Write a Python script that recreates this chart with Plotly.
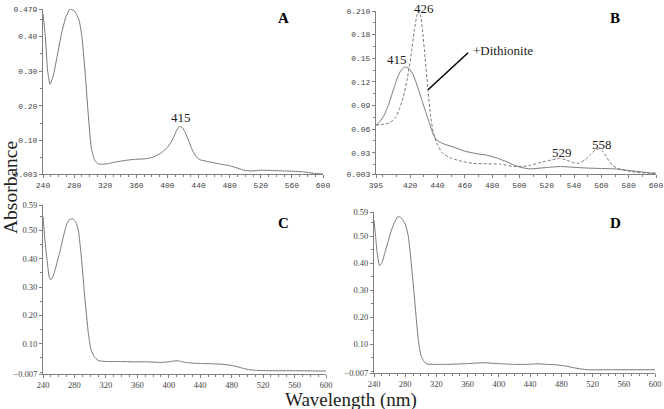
import plotly.graph_objects as go

# ---------------- data ----------------
# Panel A
a_nm = [240, 243, 246, 249, 253, 258, 264, 270, 275, 280, 286, 290, 294, 298, 302, 306, 310, 316,
        324, 332, 342, 356, 372, 382, 392, 400, 406, 411, 415, 419, 423, 428, 432, 437, 442, 452,
        462, 472, 480, 490, 500, 510, 522, 535, 548, 562, 575, 588, 600]
a_abs = [0.465, 0.40, 0.30, 0.262, 0.285, 0.34, 0.41, 0.46, 0.479, 0.474, 0.45, 0.40, 0.30, 0.18,
         0.08, 0.045, 0.033, 0.031, 0.033, 0.037, 0.041, 0.045, 0.047, 0.052, 0.064, 0.080, 0.100,
         0.125, 0.140, 0.137, 0.122, 0.095, 0.072, 0.053, 0.044, 0.039, 0.034, 0.030, 0.027, 0.020,
         0.013, 0.012, 0.014, 0.013, 0.012, 0.011, 0.009, 0.005, 0.003]

# Panel B, oxidised (solid)
b_nm = [395, 398, 401, 404, 407, 410, 413, 416, 419, 422, 425, 428, 431, 434, 437, 440, 445, 452,
        460, 468, 476, 484, 490, 496, 502, 508, 515, 522, 530, 540, 550, 560, 570, 580, 590, 600]
b_abs = [0.065, 0.070, 0.078, 0.090, 0.106, 0.122, 0.134, 0.139, 0.137, 0.130, 0.116, 0.100, 0.084,
         0.068, 0.053, 0.045, 0.041, 0.037, 0.032, 0.029, 0.027, 0.023, 0.019, 0.0145, 0.011, 0.0095,
         0.0105, 0.0115, 0.0125, 0.0115, 0.0105, 0.010, 0.0095, 0.0075, 0.0055, 0.003]

# Panel B, + dithionite (dashed)
bd_nm = [395, 400, 405, 409, 412, 415, 418, 421, 423, 425, 426, 427.5, 429, 431, 433, 435, 437, 440,
         444, 450, 458, 466, 476, 486, 496, 502, 508, 516, 524, 529, 534, 540, 544, 548, 552, 556,
         558, 561, 564, 568, 574, 582, 590, 600]
bd_abs = [0.065, 0.066, 0.068, 0.074, 0.085, 0.101, 0.125, 0.158, 0.185, 0.205, 0.210, 0.205, 0.186,
          0.150, 0.110, 0.076, 0.055, 0.040, 0.029, 0.023, 0.019, 0.0165, 0.016, 0.0155, 0.0125,
          0.0125, 0.014, 0.018, 0.021, 0.023, 0.021, 0.017, 0.0168, 0.021, 0.028, 0.034, 0.0348,
          0.032, 0.024, 0.014, 0.009, 0.006, 0.0045, 0.0045]

# Panel C
c_nm = [240, 242, 245, 248, 250, 253, 257, 262, 266, 270, 274, 278, 282, 285, 289, 292, 295, 298,
        301, 305, 310, 316, 325, 340, 355, 372, 390, 400, 407, 411, 416, 423, 440, 457, 470, 478,
        487, 495, 503, 512, 530, 560, 580, 600]
c_abs = [0.55, 0.48, 0.40, 0.335, 0.326, 0.34, 0.378, 0.43, 0.48, 0.52, 0.539, 0.541, 0.528, 0.50,
         0.40, 0.30, 0.21, 0.13, 0.08, 0.055, 0.041, 0.038, 0.037, 0.037, 0.036, 0.036, 0.034, 0.036,
         0.039, 0.040, 0.037, 0.033, 0.030, 0.029, 0.027, 0.024, 0.019, 0.0126, 0.008, 0.006,
         0.0046, 0.0046, 0.004, 0.0035]

# Panel D
d_nm = [240, 242, 244, 247, 250, 254, 258, 262, 266, 270, 273, 276, 280, 284, 288, 291, 294, 297,
        300, 304, 309, 316, 330, 345, 360, 372, 382, 392, 405, 420, 435, 450, 462, 475, 485, 495,
        505, 515, 540, 600]
d_abs = [0.56, 0.50, 0.44, 0.392, 0.40, 0.44, 0.48, 0.52, 0.55, 0.571, 0.572, 0.565, 0.545, 0.50,
         0.39, 0.30, 0.20, 0.11, 0.06, 0.035, 0.026, 0.025, 0.025, 0.026, 0.028, 0.030, 0.031, 0.029,
         0.027, 0.025, 0.025, 0.027, 0.025, 0.023, 0.019, 0.013, 0.008, 0.005, 0.005, 0.005]

# ticks
x_ticks_uv = [240, 280, 320, 360, 400, 440, 480, 520, 560, 600]
x_ticks_b = [395, 420, 440, 460, 480, 500, 520, 540, 560, 580, 600]
y_ticks_a = [0.003, 0.10, 0.20, 0.30, 0.40, 0.479]
y_text_a = ["0.003", "0.10", "0.20", "0.30", "0.40", "0.479"]
y_ticks_b = [0.003, 0.03, 0.06, 0.09, 0.12, 0.15, 0.18, 0.210]
y_text_b = ["0.003", "0.03", "0.06", "0.09", "0.12", "0.15", "0.18", "0.210"]
y_ticks_cd = [-0.007, 0.10, 0.20, 0.30, 0.40, 0.50, 0.59]
y_text_cd = ["\u22120.007", "0.10", "0.20", "0.30", "0.40", "0.50", "0.59"]

W, H = 664, 409
LINE = "#6a6a6a"
AX = "#808080"

fig = go.Figure()

def curve(x, y, xa, ya, dash="solid"):
    fig.add_trace(go.Scatter(x=x, y=y, xaxis=xa, yaxis=ya, mode="lines",
                             line=dict(color=LINE, width=0.9, dash=dash, shape="spline", smoothing=0.5),
                             hoverinfo="skip", showlegend=False, cliponaxis=False))

curve(a_nm, a_abs, "x", "y")
curve(b_nm, b_abs, "x2", "y2")
curve(bd_nm, bd_abs, "x2", "y2", dash="3px,2px")
curve(c_nm, c_abs, "x3", "y3")
curve(d_nm, d_abs, "x4", "y4")

def xdom(l, r):
    return [l / W, r / W]

def ydom(b, t):
    return [1 - b / H, 1 - t / H]

def xax(dom, rng, vals, anchor, font, tick0):
    return dict(domain=dom, range=rng, anchor=anchor, tickmode="array", tickvals=vals,
                ticktext=[str(v) for v in vals], showline=True, linecolor=AX, linewidth=1,
                ticks="outside", ticklen=3, tickcolor=AX, tickwidth=1, tickfont=font,
                showgrid=False, zeroline=False, fixedrange=True, automargin=False,
                minor=dict(tick0=tick0, dtick=10, ticks="outside", ticklen=2, tickcolor=AX))

def yax(dom, rng, vals, text, anchor, font, dt):
    return dict(domain=dom, range=rng, anchor=anchor, tickmode="array", tickvals=vals,
                ticktext=text, showline=True, linecolor=AX, linewidth=1,
                ticks="outside", ticklen=3, tickcolor=AX, tickwidth=1, tickfont=font,
                showgrid=False, zeroline=False, fixedrange=True, automargin=False,
                minor=dict(tick0=0, dtick=dt, ticks="outside", ticklen=2, tickcolor=AX))

mono = dict(family="Liberation Mono", size=8, color="#444")
serif_small = dict(family="Liberation Serif", size=8.5, color="#444")

fig.update_layout(
    width=W, height=H, margin=dict(l=0, r=0, t=0, b=0, autoexpand=False),
    paper_bgcolor="white", plot_bgcolor="white", showlegend=False,
    xaxis=xax(xdom(43, 323), [240, 600], x_ticks_uv, "y", mono, 240),
    yaxis=yax(ydom(174, 9), [0.003, 0.479], y_ticks_a, y_text_a, "x", mono, 0.05),
    xaxis2=xax(xdom(376, 656), [395, 600], x_ticks_b, "y2", mono, 400),
    yaxis2=yax(ydom(174, 11), [0.003, 0.210], y_ticks_b, y_text_b, "x2", mono, 0.015),
    xaxis3=xax(xdom(43, 326), [240, 600], x_ticks_uv, "y3", serif_small, 240),
    yaxis3=yax(ydom(374, 205), [-0.007, 0.59], y_ticks_cd, y_text_cd, "x3", serif_small, 0.05),
    xaxis4=xax(xdom(374, 655), [240, 600], x_ticks_uv, "y4", serif_small, 240),
    yaxis4=yax(ydom(373, 212), [-0.007, 0.59], y_ticks_cd, y_text_cd, "x4", serif_small, 0.05),
)

lab = dict(family="Liberation Serif", size=13, color="#222")
panel = dict(family="Liberation Serif", size=15, color="black")
C = dict(xanchor="center", yanchor="middle", showarrow=False)

annots = [
    dict(text="<b>A</b>", x=283 / W, y=1 - 18 / H, xref="paper", yref="paper", font=panel, **C),
    dict(text="<b>B</b>", x=615 / W, y=1 - 18 / H, xref="paper", yref="paper", font=panel, **C),
    dict(text="<b>C</b>", x=283 / W, y=1 - 223 / H, xref="paper", yref="paper", font=panel, **C),
    dict(text="<b>D</b>", x=615 / W, y=1 - 223 / H, xref="paper", yref="paper", font=panel, **C),
    dict(text="415", x=417, y=0.140, xref="x", yref="y", xanchor="center", yanchor="bottom",
         yshift=0, showarrow=False, font=lab),
    dict(text="426", x=430.5, y=0.210, xref="x2", yref="y2", xanchor="center", yanchor="bottom",
         yshift=-7, showarrow=False, font=lab),
    dict(text="415", x=410.4, y=0.148, xref="x2", yref="y2", font=lab, **C),
    dict(text="529", x=531.2, y=0.0308, xref="x2", yref="y2", font=lab, **C),
    dict(text="558", x=560.5, y=0.041, xref="x2", yref="y2", font=lab, **C),
    dict(text="+Dithionite", x=464.8, y=0.160, xref="x2", yref="y2", xanchor="left", yanchor="middle",
         showarrow=False, font=lab),
    dict(text="Absorbance", x=10 / W, y=1 - 188 / H, xref="paper", yref="paper", textangle=-90,
         font=dict(family="Liberation Serif", size=19.5, color="#222"), **C),
    dict(text="Wavelength (nm)", x=351 / W, y=1 - 400 / H, xref="paper", yref="paper",
         font=dict(family="Liberation Serif", size=19, color="#222"), **C),
]
for a in annots:
    fig.add_annotation(**a)

fig.add_shape(type="line", xref="x2", yref="y2", x0=433.1, y0=0.110, x1=462.4, y1=0.157,
              line=dict(color="black", width=1.5))

fig.write_html("out.html", config=dict(displayModeBar=False),
               post_script="document.body.style.margin='0';document.body.style.overflow='hidden';")
